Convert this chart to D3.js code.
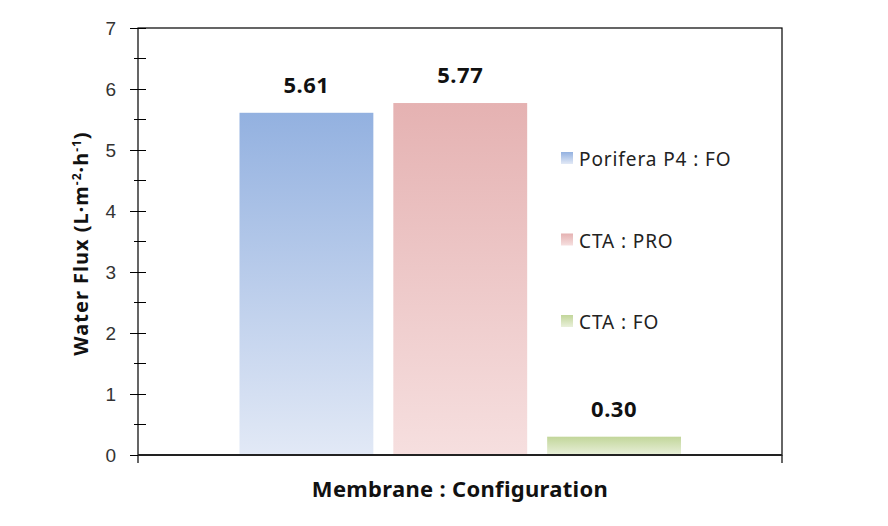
<!DOCTYPE html>
<html><head><meta charset="utf-8">
<script src="https://cdn.jsdelivr.net/npm/d3@7"></script>
<style>body{margin:0;background:#fff}svg{display:block}</style>
</head><body>
<svg id="c" width="888" height="526"></svg>
<script>
const series = ["Porifera P4 : FO", "CTA : PRO", "CTA : FO"];
const values = [5.61, 5.77, 0.30];
const labels = ["5.61", "5.77", "0.30"];
const yTicks = [0, 1, 2, 3, 4, 5, 6, 7];
const topColors = ["#93b1e0", "#e5b2b2", "#c2d69a"];
const bottomColors = ["#e2e9f6", "#f6dfdf", "#e9f0da"];

const svg = d3.select("#c");
const L = 138, R = 782, T = 28, B = 455;
const y = d3.scaleLinear().domain([0, 7]).range([B, T]);
const x = d3.scaleBand().domain(series).range([239.5, 681]).paddingInner(20/154).paddingOuter(0);

const defs = svg.append("defs");
series.forEach((s, i) => {
  const g = defs.append("linearGradient").attr("id", "g" + i).attr("x1", 0).attr("y1", 0).attr("x2", 0).attr("y2", 1);
  g.append("stop").attr("offset", 0).attr("stop-color", topColors[i]);
  g.append("stop").attr("offset", 1).attr("stop-color", bottomColors[i]);
});

// plot border
svg.append("rect").attr("x", L).attr("y", T).attr("width", R - L).attr("height", B - T)
  .attr("fill", "none").attr("stroke", "#000").attr("stroke-width", 1.2);

// bars
svg.selectAll("rect.bar").data(series).enter().append("rect").attr("class", "bar")
  .attr("x", d => x(d)).attr("width", x.bandwidth())
  .attr("y", (d, i) => y(values[i])).attr("height", (d, i) => B - y(values[i]))
  .attr("fill", (d, i) => `url(#g${i})`);

// value labels
svg.selectAll("text.val").data(series).enter().append("text").attr("class", "val")
  .attr("x", d => x(d) + x.bandwidth() / 2).attr("y", (d, i) => y(values[i]) - 20)
  .attr("text-anchor", "middle").attr("font-family", "Noto Sans, sans-serif")
  .attr("font-weight", "bold").attr("font-size", 22).attr("letter-spacing", 0.5).attr("fill", "#111")
  .text((d, i) => labels[i]);

// y axis
const ax = svg.append("g").attr("transform", `translate(${L},0)`)
  .call(d3.axisLeft(y).tickValues(yTicks).tickSize(8).tickPadding(14).tickFormat(d3.format("d")));
ax.select(".domain").remove();
ax.selectAll(".tick line").attr("stroke", "#000").attr("x2", -8).attr("x1", 8);
ax.selectAll(".tick text").attr("font-family", "Liberation Sans, Arial, sans-serif").attr("font-size", 19).attr("fill", "#333");
// minor ticks
const minor = d3.range(0.5, 7, 1);
svg.append("g").selectAll("line").data(minor).enter().append("line")
  .attr("x1", L - 4).attr("x2", L + 8).attr("y1", d => y(d)).attr("y2", d => y(d))
  .attr("stroke", "#000");
// axis extensions below
svg.append("line").attr("x1", L).attr("x2", L).attr("y1", B).attr("y2", B + 8).attr("stroke", "#000").attr("stroke-width", 1.2);
svg.append("line").attr("x1", R).attr("x2", R).attr("y1", B).attr("y2", B + 8).attr("stroke", "#000").attr("stroke-width", 1.2);
svg.append("line").attr("x1", L).attr("x2", R).attr("y1", B).attr("y2", B).attr("stroke", "#222").attr("stroke-width", 2);

// axis titles
const yt = svg.append("text").attr("transform", `translate(88,${(T + B) / 2 + 2}) rotate(-90)`)
  .attr("text-anchor", "middle").attr("font-family", "Noto Sans, sans-serif")
  .attr("font-weight", "bold").attr("font-size", 20).attr("letter-spacing", 1).attr("fill", "#111");
yt.append("tspan").text("Water Flux (L·m");
yt.append("tspan").attr("font-size", 12).attr("dy", -7).text("-2");
yt.append("tspan").attr("dy", 7).text("·h");
yt.append("tspan").attr("font-size", 12).attr("dy", -7).text("-1");
yt.append("tspan").attr("dy", 7).text(")");

svg.append("text").attr("x", 460).attr("y", 497).attr("text-anchor", "middle")
  .attr("font-family", "Noto Sans, sans-serif").attr("font-weight", "bold").attr("letter-spacing", 0.3)
  .attr("font-size", 22).attr("fill", "#111").text("Membrane : Configuration");

// legend
const lg = svg.append("g").selectAll("g").data(series).enter().append("g")
  .attr("transform", (d, i) => `translate(561,${158 + i * 81.5})`);
lg.append("rect").attr("x", 0).attr("y", -6).attr("width", 12).attr("height", 12)
  .attr("fill", (d, i) => `url(#g${i})`);
lg.append("text").attr("x", 18).attr("y", 8).attr("font-family", "Noto Sans, sans-serif")
  .attr("font-size", 19).attr("letter-spacing", 0.9).attr("fill", "#222").text(d => d);
</script>
</body></html>
